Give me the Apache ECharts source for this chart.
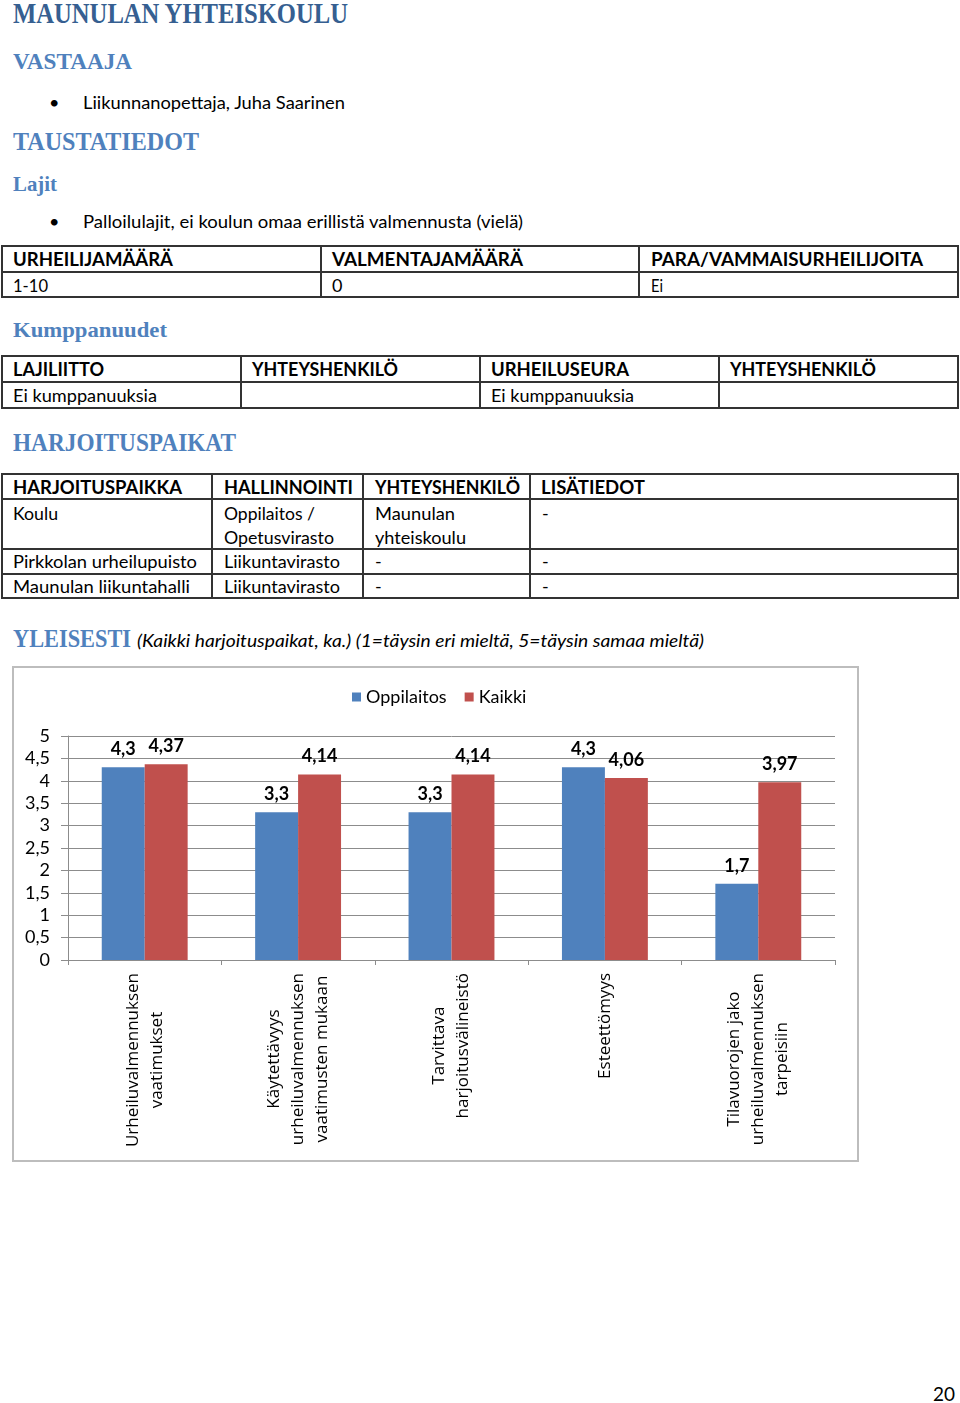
<!DOCTYPE html>
<html><head><meta charset="utf-8">
<script src="https://cdn.jsdelivr.net/npm/echarts/dist/echarts.min.js"></script>
<style>
html,body{margin:0;padding:0;background:#fff}
body{width:960px;height:1403px;position:relative;overflow:hidden;font-family:Lato,'Open Sans',sans-serif;color:#000}
.t{position:absolute;white-space:nowrap;font-size:18px;height:30px;line-height:30px;transform-origin:0 50%}
.hs{font-family:'Liberation Serif',serif;font-weight:bold;color:#4F81BD}
.h1{font-family:'Liberation Serif',serif;font-weight:bold;color:#365F91}
.b{font-weight:bold}
.i{font-style:italic}
.hl{position:absolute;height:2px;background:#333}
.vl{position:absolute;width:2px;background:#333}
#chart{position:absolute;left:14px;top:668px;width:843px;height:492px;outline:2px solid #bdbdbd}
</style></head>
<body>
<!-- headings and text (top = centre - 15) -->
<div class="t h1" style="left:13px;top:-2px;font-size:29px" data-w="335">MAUNULAN YHTEISKOULU</div>
<div class="t hs" style="left:13px;top:46px;font-size:24px" data-w="119">VASTAAJA</div>
<div class="t" style="left:49px;top:87px">•</div>
<div class="t" style="left:83px;top:87px" data-w="262">Liikunnanopettaja, Juha Saarinen</div>
<div class="t hs" style="left:13px;top:127px;font-size:25px" data-w="186">TAUSTATIEDOT</div>
<div class="t hs" style="left:13px;top:169px;font-size:22px" data-w="44">Lajit</div>
<div class="t" style="left:49px;top:206px">•</div>
<div class="t" style="left:83px;top:206px" data-w="440">Palloilulajit, ei koulun omaa erillistä valmennusta (vielä)</div>

<!-- table 1 -->
<div class="hl" style="left:2px;width:957px;top:245px"></div>
<div class="hl" style="left:2px;width:957px;top:271px"></div>
<div class="hl" style="left:2px;width:957px;top:296px"></div>
<div class="vl" style="left:1px;top:245px;height:53px"></div>
<div class="vl" style="left:320px;top:245px;height:53px"></div>
<div class="vl" style="left:638px;top:245px;height:53px"></div>
<div class="vl" style="left:957px;top:245px;height:53px"></div>
<div class="t b" style="left:13px;top:244px" data-w="160">URHEILIJAMÄÄRÄ</div>
<div class="t b" style="left:332px;top:244px" data-w="191">VALMENTAJAMÄÄRÄ</div>
<div class="t b" style="left:651px;top:244px" data-w="272">PARA/VAMMAISURHEILIJOITA</div>
<div class="t" style="left:13px;top:270px" data-w="35">1-10</div>
<div class="t" style="left:332px;top:270px">0</div>
<div class="t" style="left:651px;top:270px" data-w="12">Ei</div>

<div class="t hs" style="left:13px;top:315px;font-size:22px" data-w="154">Kumppanuudet</div>

<!-- table 2 -->
<div class="hl" style="left:2px;width:957px;top:355px"></div>
<div class="hl" style="left:2px;width:957px;top:381px"></div>
<div class="hl" style="left:2px;width:957px;top:407px"></div>
<div class="vl" style="left:1px;top:355px;height:54px"></div>
<div class="vl" style="left:240px;top:355px;height:54px"></div>
<div class="vl" style="left:479px;top:355px;height:54px"></div>
<div class="vl" style="left:718px;top:355px;height:54px"></div>
<div class="vl" style="left:957px;top:355px;height:54px"></div>
<div class="t b" style="left:13px;top:354px" data-w="91">LAJILIITTO</div>
<div class="t b" style="left:252px;top:354px" data-w="146">YHTEYSHENKILÖ</div>
<div class="t b" style="left:491px;top:354px" data-w="138">URHEILUSEURA</div>
<div class="t b" style="left:730px;top:354px" data-w="146">YHTEYSHENKILÖ</div>
<div class="t" style="left:13px;top:380px" data-w="144">Ei kumppanuuksia</div>
<div class="t" style="left:491px;top:380px" data-w="143">Ei kumppanuuksia</div>

<div class="t hs" style="left:13px;top:428px;font-size:25px" data-w="223">HARJOITUSPAIKAT</div>

<!-- table 3 -->
<div class="hl" style="left:2px;width:957px;top:473px"></div>
<div class="hl" style="left:2px;width:957px;top:498px"></div>
<div class="hl" style="left:2px;width:957px;top:548px"></div>
<div class="hl" style="left:2px;width:957px;top:573px"></div>
<div class="hl" style="left:2px;width:957px;top:597px"></div>
<div class="vl" style="left:1px;top:473px;height:126px"></div>
<div class="vl" style="left:211px;top:473px;height:126px"></div>
<div class="vl" style="left:362px;top:473px;height:126px"></div>
<div class="vl" style="left:529px;top:473px;height:126px"></div>
<div class="vl" style="left:957px;top:473px;height:126px"></div>
<div class="t b" style="left:13px;top:472px" data-w="169">HARJOITUSPAIKKA</div>
<div class="t b" style="left:224px;top:472px" data-w="129">HALLINNOINTI</div>
<div class="t b" style="left:375px;top:472px" data-w="145">YHTEYSHENKILÖ</div>
<div class="t b" style="left:541px;top:472px" data-w="104">LISÄTIEDOT</div>
<div class="t" style="left:13px;top:498px" data-w="45">Koulu</div>
<div class="t" style="left:224px;top:498px" data-w="91">Oppilaitos /</div>
<div class="t" style="left:375px;top:498px" data-w="80">Maunulan</div>
<div class="t" style="left:542px;top:498px">-</div>
<div class="t" style="left:224px;top:522px" data-w="110">Opetusvirasto</div>
<div class="t" style="left:375px;top:522px" data-w="91">yhteiskoulu</div>
<div class="t" style="left:13px;top:546px" data-w="184">Pirkkolan urheilupuisto</div>
<div class="t" style="left:224px;top:546px" data-w="116">Liikuntavirasto</div>
<div class="t" style="left:375px;top:546px">-</div>
<div class="t" style="left:542px;top:546px">-</div>
<div class="t" style="left:13px;top:571px" data-w="177">Maunulan liikuntahalli</div>
<div class="t" style="left:224px;top:571px" data-w="116">Liikuntavirasto</div>
<div class="t" style="left:375px;top:571px">-</div>
<div class="t" style="left:542px;top:571px">-</div>

<div class="t hs" style="left:13px;top:624px;font-size:25px" data-w="118">YLEISESTI</div>
<div class="t i" style="left:137px;top:625px" data-w="567">(Kaikki harjoituspaikat, ka.) (1=täysin eri mieltä, 5=täysin samaa mieltä)</div>

<div id="chart"></div>

<div class="t" style="left:933px;top:1378px;font-size:20px" data-w="22">20</div>

<script>
// ---- chart data ----
const categories = [
  'Urheiluvalmennuksen\nvaatimukset',
  'Käytettävyys\nurheiluvalmennuksen\nvaatimusten mukaan',
  'Tarvittava\nharjoitusvälineistö',
  'Esteettömyys',
  'Tilavuorojen jako\nurheiluvalmennuksen\ntarpeisiin'
];
const seriesNames = ['Oppilaitos', 'Kaikki'];
const oppilaitos = [4.3, 3.3, 3.3, 4.3, 1.7];
const kaikki = [4.37, 4.14, 4.14, 4.06, 3.97];
const yMin = 0, yMax = 5, yStep = 0.5;

// ---- fit document text widths ----
function fitTexts() {
  document.querySelectorAll('[data-w]').forEach(el => {
    el.style.transform = 'none';
    const w = el.getBoundingClientRect().width;
    const target = parseFloat(el.getAttribute('data-w'));
    if (w > 0) el.style.transform = 'scaleX(' + (target / w).toFixed(4) + ')';
  });
}
fitTexts();
if (document.fonts && document.fonts.ready) document.fonts.ready.then(fitTexts);

const comma = v => String(v).replace('.', ',');
const grey = '#8c8c8c';
const chart = echarts.init(document.getElementById('chart'), null, {renderer: 'canvas'});
chart.setOption({
  animation: false,
  backgroundColor: '#fff',
  color: ['#4F81BD', '#C0504D'],
  legend: {
    data: seriesNames, left: 333, top: 15, icon: 'rect',
    itemWidth: 9, itemHeight: 9, itemGap: 18,
    textStyle: {fontFamily: 'Lato', fontSize: 18, color: '#000'}
  },
  grid: {left: 54, right: 22, top: 68, bottom: 200, containLabel: false, outerBoundsMode: 'none'},
  xAxis: {
    type: 'category', data: categories,
    axisLine: {lineStyle: {color: grey, width: 1}},
    axisTick: {show: true, length: 5, lineStyle: {color: grey}},
    axisLabel: {
      interval: 0, rotate: 90, margin: 13, hideOverlap: false,
      formatter: v => v.split('\n').map(l => '{c|' + l + '}').join('\n'),
      rich: {c: {align: 'center', fontFamily: 'Open Sans', fontSize: 17, lineHeight: 24, color: '#000'}}
    }
  },
  yAxis: {
    type: 'value', min: yMin, max: yMax, interval: yStep,
    axisLine: {show: true, lineStyle: {color: grey, width: 1}},
    axisTick: {show: true, length: 7, lineStyle: {color: grey}},
    splitLine: {show: true, lineStyle: {color: grey, width: 1}},
    axisLabel: {margin: 18, fontFamily: 'Lato', fontSize: 18, color: '#000', formatter: comma}
  },
  series: [oppilaitos, kaikki].map((d, i) => ({
    name: seriesNames[i], type: 'bar', data: d,
    barGap: '0%', barCategoryGap: '44%',
    label: {
      show: true, position: 'top', distance: 9,
      fontFamily: 'Lato', fontWeight: 'bold', fontSize: 18, color: '#000',
      formatter: p => comma(p.value)
    }
  }))
});
</script>
</body></html>
